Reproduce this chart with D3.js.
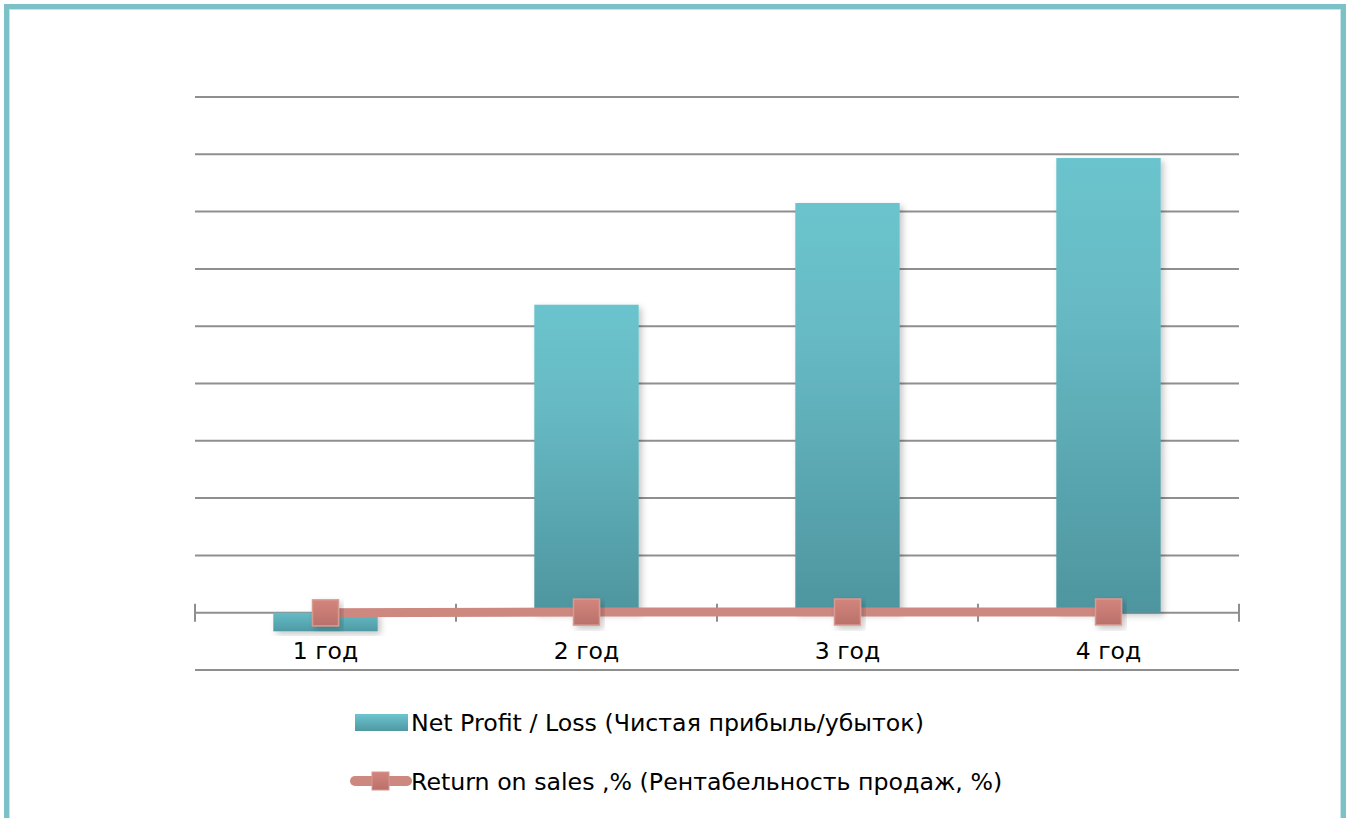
<!DOCTYPE html>
<html>
<head>
<meta charset="utf-8">
<script src="https://cdn.jsdelivr.net/npm/d3@7"></script>
<style>
  html, body { margin: 0; padding: 0; background: #ffffff; }
  svg { display: block; }
  text { font-family: "DejaVu Sans", Tahoma, sans-serif; fill: #000; }
</style>
</head>
<body>
<svg id="chart" width="1351" height="818"></svg>
<script>
// Chart data
const categories = ["1 год", "2 год", "3 год", "4 год"];
const netProfit = [-650, 10750, 14300, 15870];
const returnOnSales = [-6, 21, 24, 26];
const yTicks = [-2000, 0, 2000, 4000, 6000, 8000, 10000, 12000, 14000, 16000, 18000];
const seriesNames = [
  "Net Profit / Loss (Чистая прибыль/убыток)",
  "Return on sales ,% (Рентабельность продаж, %)"
];

const W = 1351, H = 818;
const svg = d3.select("#chart");

const defs = svg.append("defs");
const barGrad = defs.append("linearGradient")
  .attr("id", "barGrad").attr("x1", 0).attr("y1", 0).attr("x2", 0).attr("y2", 1);
barGrad.append("stop").attr("offset", "0%").attr("stop-color", "#6bc4cd");
barGrad.append("stop").attr("offset", "35%").attr("stop-color", "#66b9c3");
barGrad.append("stop").attr("offset", "100%").attr("stop-color", "#4e959f");

const negGrad = defs.append("linearGradient")
  .attr("id", "negGrad").attr("x1", 0).attr("y1", 0).attr("x2", 0).attr("y2", 1);
negGrad.append("stop").attr("offset", "0%").attr("stop-color", "#64bcc6");
negGrad.append("stop").attr("offset", "100%").attr("stop-color", "#4f9aa4");

const mkGrad = defs.append("linearGradient")
  .attr("id", "mkGrad").attr("x1", 0).attr("y1", 0).attr("x2", 0).attr("y2", 1);
mkGrad.append("stop").attr("offset", "0%").attr("stop-color", "#d3857c");
mkGrad.append("stop").attr("offset", "100%").attr("stop-color", "#b9716a");

const lgGrad = defs.append("linearGradient")
  .attr("id", "lgGrad").attr("x1", 0).attr("y1", 0).attr("x2", 0).attr("y2", 1);
lgGrad.append("stop").attr("offset", "0%").attr("stop-color", "#6cc5ce");
lgGrad.append("stop").attr("offset", "100%").attr("stop-color", "#4f98a2");

const shadow = defs.append("filter").attr("id", "shadow")
  .attr("x", "-20%").attr("y", "-20%").attr("width", "140%").attr("height", "140%");
shadow.append("feDropShadow").attr("dx", 3).attr("dy", 3).attr("stdDeviation", 3)
  .attr("flood-color", "#000").attr("flood-opacity", 0.22);

// Frame
svg.append("rect").attr("x", 6.5).attr("y", 6.5).attr("width", 1337).attr("height", 840)
  .attr("fill", "#ffffff").attr("stroke", "#7dc1c8").attr("stroke-width", 5);
svg.append("rect").attr("x", 9.5).attr("y", 9.5).attr("width", 1331).attr("height", 840)
  .attr("fill", "none").attr("stroke", "#c4e4e7").attr("stroke-width", 1);

// Scales
const x = d3.scaleBand().domain(categories).range([195, 1239]).paddingInner(0).paddingOuter(0);
const y = d3.scaleLinear().domain([-2000, 18000]).range([670, 97]);
const barW = x.bandwidth() * 0.4;

// Gridlines
svg.append("g").selectAll("line").data(yTicks.filter(v => v !== 0)).join("line")
  .attr("x1", 195).attr("x2", 1239)
  .attr("y1", d => y(d)).attr("y2", d => y(d))
  .attr("stroke", "#8f8f8f").attr("stroke-width", 2);

// Category axis at zero
const xAxis = d3.axisBottom(x).tickSize(0).tickFormat("");
const axisG = svg.append("g").attr("transform", `translate(0,${y(0)})`).call(xAxis);
axisG.select(".domain").attr("stroke", "#8f8f8f").attr("stroke-width", 2).attr("d", "M195,0H1239");
const tickPos = [195, ...categories.map(c => x(c) + x.bandwidth())];
axisG.selectAll(".sep").data(tickPos).join("line").attr("class", "sep")
  .attr("x1", d => d).attr("x2", d => d).attr("y1", -9).attr("y2", 9)
  .attr("stroke", "#8f8f8f").attr("stroke-width", 2);

// Bars
svg.append("g").selectAll("rect").data(netProfit).join("rect")
  .attr("x", (d, i) => x(categories[i]) + (x.bandwidth() - barW) / 2)
  .attr("width", barW)
  .attr("y", d => y(Math.max(0, d)))
  .attr("height", d => Math.abs(y(d) - y(0)))
  .attr("fill", d => d < 0 ? "url(#negGrad)" : "url(#barGrad)")
  .attr("filter", "url(#shadow)");

// Category labels
svg.append("g").selectAll("text").data(categories).join("text")
  .attr("x", d => x(d) + x.bandwidth() / 2)
  .attr("y", 659)
  .attr("text-anchor", "middle")
  .attr("font-size", 23.5)
  .text(d => d);

// Return on sales line
const cx = (i) => x(categories[i]) + x.bandwidth() / 2;
const line = d3.line().x((d, i) => cx(i)).y(d => y(d));
svg.append("path").datum(returnOnSales)
  .attr("d", line)
  .attr("fill", "none").attr("stroke", "#cd8880").attr("stroke-width", 9)
  .attr("stroke-linejoin", "round");

svg.append("g").selectAll("rect").data(returnOnSales).join("rect")
  .attr("x", (d, i) => cx(i) - 13)
  .attr("y", d => y(d) - 13)
  .attr("width", 26).attr("height", 26)
  .attr("fill", "url(#mkGrad)")
  .attr("stroke", "#d89990").attr("stroke-width", 1.5)
  .attr("filter", "url(#shadow)");

// Legend
const lg = svg.append("g");
lg.append("rect").attr("x", 355).attr("y", 714).attr("width", 53).attr("height", 17)
  .attr("fill", "url(#lgGrad)");
lg.append("text").attr("x", 411).attr("y", 731).attr("font-size", 23.7).text(seriesNames[0]);

lg.append("line").attr("x1", 355).attr("x2", 407).attr("y1", 781).attr("y2", 781)
  .attr("stroke", "#cd8880").attr("stroke-width", 10).attr("stroke-linecap", "round");
lg.append("rect").attr("x", 372).attr("y", 772).attr("width", 17).attr("height", 18)
  .attr("fill", "url(#mkGrad)").attr("stroke", "#d89990").attr("stroke-width", 1);
lg.append("text").attr("x", 411).attr("y", 790).attr("font-size", 23.7).text(seriesNames[1]);
</script>
</body>
</html>
